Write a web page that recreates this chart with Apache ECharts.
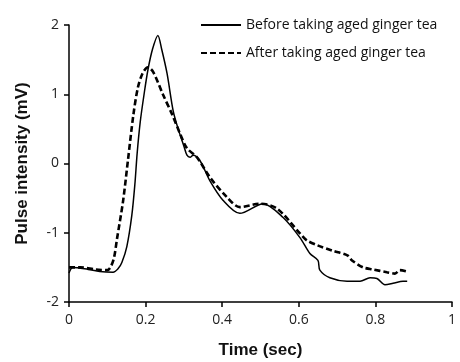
<!DOCTYPE html>
<html>
<head>
<meta charset="utf-8">
<script src="https://cdn.jsdelivr.net/npm/echarts@6/dist/echarts.min.js"></script>
<style>
  html, body { margin: 0; padding: 0; background: #fff; }
  #chart { width: 460px; height: 362px; }
</style>
</head>
<body>
<div id="chart"></div>
<script>
// time (sec), pulse intensity (mV)
const beforeTea = [
  [0, -1.58], [0.01, -1.5], [0.05, -1.53], [0.08, -1.56], [0.115, -1.57],
  [0.128, -1.52], [0.138, -1.43], [0.151, -1.2], [0.164, -0.75], [0.172, -0.3],
  [0.178, 0.15], [0.186, 0.6], [0.196, 1.0], [0.206, 1.35], [0.218, 1.65],
  [0.232, 1.85], [0.242, 1.65], [0.256, 1.3], [0.272, 0.76], [0.285, 0.5],
  [0.3, 0.25], [0.308, 0.12], [0.316, 0.09], [0.324, 0.12], [0.342, 0.04],
  [0.368, -0.25], [0.402, -0.53], [0.446, -0.72], [0.507, -0.58], [0.559, -0.78],
  [0.603, -1.07], [0.629, -1.3], [0.65, -1.4], [0.655, -1.54], [0.681, -1.65],
  [0.726, -1.7], [0.76, -1.7], [0.786, -1.65], [0.804, -1.66], [0.825, -1.75],
  [0.846, -1.73], [0.872, -1.7], [0.883, -1.7]
];
const afterTea = [
  [0, -1.5], [0.03, -1.5], [0.07, -1.53], [0.1, -1.54], [0.11, -1.48],
  [0.118, -1.35], [0.125, -1.1], [0.141, -0.55], [0.154, 0.05], [0.168, 0.7],
  [0.18, 1.1], [0.192, 1.3], [0.206, 1.39], [0.22, 1.32], [0.245, 1.0],
  [0.27, 0.7], [0.29, 0.43], [0.308, 0.22], [0.334, 0.09], [0.368, -0.2],
  [0.413, -0.49], [0.446, -0.63], [0.499, -0.58], [0.543, -0.65], [0.603, -1.01],
  [0.621, -1.11], [0.648, -1.18], [0.689, -1.26], [0.728, -1.33], [0.739, -1.4],
  [0.768, -1.5], [0.794, -1.53], [0.83, -1.57], [0.851, -1.59], [0.864, -1.54],
  [0.883, -1.56]
];
const seriesNames = ['Before taking aged ginger tea', 'After taking aged ginger tea'];

const chart = echarts.init(document.getElementById('chart'));
const labelFont = { color: '#222', fontSize: 14, fontFamily: 'Open Sans' };
const axisLine = { show: true, onZero: false, lineStyle: { color: '#000', width: 1.5 } };
const axisTick = { show: true, inside: false, length: 5, lineStyle: { color: '#000', width: 1.5 } };

chart.setOption({
  animation: false,
  grid: { left: 69, right: 8, top: 25, bottom: 60, outerBoundsMode: 'none', containLabel: false },
  legend: {
    orient: 'vertical',
    left: 195,
    top: 13,
    itemWidth: 40,
    itemHeight: 10,
    itemGap: 14,
    itemStyle: { opacity: 0 },
    textStyle: { color: '#111', fontSize: 14, fontFamily: 'Open Sans' },
    data: seriesNames
  },
  xAxis: {
    type: 'value',
    min: 0,
    max: 1,
    interval: 0.2,
    name: 'Time (sec)',
    nameLocation: 'middle',
    nameGap: 40,
    nameTextStyle: { color: '#111', fontSize: 17, fontWeight: 'bold', fontFamily: 'Liberation Sans' },
    axisLine: axisLine,
    axisTick: axisTick,
    splitLine: { show: false },
    axisLabel: Object.assign({ margin: 11 }, labelFont)
  },
  yAxis: {
    type: 'value',
    min: -2,
    max: 2,
    interval: 1,
    name: 'Pulse intensity (mV)',
    nameLocation: 'middle',
    nameGap: 38,
    nameTextStyle: { color: '#111', fontSize: 17, fontWeight: 'bold', fontFamily: 'Liberation Sans' },
    axisLine: axisLine,
    axisTick: axisTick,
    splitLine: { show: false },
    axisLabel: Object.assign({ margin: 10 }, labelFont)
  },
  series: [
    {
      name: seriesNames[0],
      type: 'line',
      data: beforeTea,
      smooth: 0.3,
      showSymbol: false,
      symbol: 'none',
      lineStyle: { color: '#000', width: 1.5, type: 'solid' },
      itemStyle: { color: '#000' }
    },
    {
      name: seriesNames[1],
      type: 'line',
      data: afterTea,
      smooth: 0.3,
      showSymbol: false,
      symbol: 'none',
      lineStyle: { color: '#000', width: 2.6, type: [6, 3] },
      itemStyle: { color: '#000' }
    }
  ]
});
</script>
</body>
</html>
